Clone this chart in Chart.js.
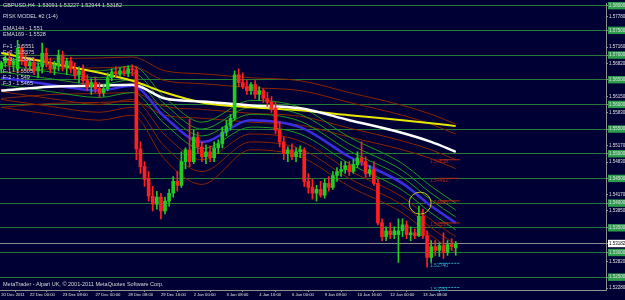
<!DOCTYPE html>
<html><head><meta charset="utf-8">
<script src="https://cdn.jsdelivr.net/npm/chart.js@4/dist/chart.umd.min.js"></script>
<style>html,body{margin:0;padding:0;background:#000035;}canvas{display:block}</style>
</head><body>
<canvas id="c" width="625" height="300"></canvas>
<script>
// ---- candle data (GBPUSD H4) ----
const opens=[1.5672,1.5684,1.5694,1.5680,1.5672,1.5714,1.5688,1.5678,1.5684,1.5668,1.5676,1.5704,1.5684,1.5672,1.5680,1.5700,1.5676,1.5688,1.5672,1.5660,1.5668,1.5648,1.5636,1.5644,1.5632,1.5624,1.5632,1.5654,1.5666,1.5662,1.5668,1.5664,1.5672,1.5670,1.5510,1.5474,1.5448,1.5414,1.5398,1.5412,1.5384,1.5404,1.5420,1.5444,1.5436,1.5484,1.5508,1.5484,1.5534,1.5514,1.5494,1.5504,1.5492,1.5512,1.5520,1.5544,1.5556,1.5572,1.5660,1.5644,1.5636,1.5628,1.5640,1.5620,1.5628,1.5612,1.5604,1.5592,1.5548,1.5524,1.5500,1.5508,1.5494,1.5504,1.5508,1.5444,1.5432,1.5420,1.5428,1.5416,1.5440,1.5432,1.5456,1.5464,1.5468,1.5476,1.5464,1.5478,1.5492,1.5484,1.5460,1.5468,1.5440,1.5360,1.5332,1.5344,1.5336,1.5336,1.5344,1.5356,1.5336,1.5340,1.5334,1.5374,1.5334,1.5290,1.5312,1.5304,1.5314,1.5300,1.5316,1.53091];
const highs=[1.5688,1.5700,1.5708,1.5694,1.5730,1.5720,1.5704,1.5688,1.5694,1.5684,1.5724,1.5714,1.5694,1.5688,1.5710,1.5708,1.5694,1.5696,1.5684,1.5676,1.5680,1.5660,1.5652,1.5656,1.5644,1.5640,1.5664,1.5672,1.5676,1.5674,1.5676,1.5678,1.5680,1.5676,1.5524,1.5484,1.5464,1.5434,1.5424,1.5420,1.5412,1.5428,1.5454,1.5464,1.5504,1.5512,1.5570,1.5548,1.5544,1.5524,1.5518,1.5516,1.5524,1.5528,1.5554,1.5568,1.5580,1.5668,1.5672,1.5664,1.5648,1.5644,1.5648,1.5636,1.5632,1.5624,1.5616,1.5604,1.5564,1.5534,1.5514,1.5520,1.5512,1.5516,1.5512,1.5460,1.5448,1.5436,1.5444,1.5448,1.5454,1.5464,1.5472,1.5484,1.5484,1.5484,1.5488,1.5504,1.5524,1.5494,1.5476,1.5484,1.5448,1.5368,1.5352,1.5360,1.5352,1.5368,1.5368,1.5364,1.5352,1.5348,1.5394,1.5388,1.5344,1.5324,1.5324,1.5320,1.5340,1.5324,1.5328,1.53227];
const lows=[1.5664,1.5676,1.5672,1.5668,1.5668,1.5680,1.5672,1.5672,1.5660,1.5654,1.5664,1.5676,1.5664,1.5660,1.5668,1.5668,1.5660,1.5664,1.5652,1.5644,1.5640,1.5628,1.5620,1.5624,1.5614,1.5616,1.5628,1.5648,1.5656,1.5656,1.5658,1.5656,1.5658,1.5488,1.5460,1.5434,1.5404,1.5384,1.5388,1.5368,1.5378,1.5394,1.5412,1.5424,1.5432,1.5470,1.5474,1.5480,1.5500,1.5484,1.5480,1.5484,1.5484,1.5500,1.5512,1.5536,1.5548,1.5568,1.5636,1.5632,1.5620,1.5620,1.5612,1.5608,1.5604,1.5596,1.5584,1.5540,1.5514,1.5488,1.5484,1.5488,1.5484,1.5492,1.5434,1.5420,1.5408,1.5404,1.5412,1.5410,1.5424,1.5428,1.5444,1.5454,1.5460,1.5456,1.5460,1.5472,1.5476,1.5452,1.5454,1.5436,1.5356,1.5324,1.5324,1.5328,1.5328,1.5280,1.5332,1.5328,1.5324,1.5328,1.5332,1.5328,1.5270,1.5280,1.5294,1.5292,1.5288,1.5294,1.5304,1.52944];
const closes=[1.5684,1.5694,1.5680,1.5688,1.5714,1.5688,1.5678,1.5684,1.5668,1.5676,1.5704,1.5684,1.5672,1.5680,1.5700,1.5676,1.5688,1.5672,1.5660,1.5668,1.5648,1.5636,1.5644,1.5632,1.5624,1.5632,1.5654,1.5666,1.5662,1.5668,1.5664,1.5672,1.5670,1.5510,1.5474,1.5448,1.5414,1.5398,1.5412,1.5384,1.5404,1.5420,1.5444,1.5436,1.5484,1.5508,1.5484,1.5534,1.5514,1.5494,1.5504,1.5492,1.5512,1.5520,1.5544,1.5556,1.5572,1.5660,1.5644,1.5636,1.5628,1.5640,1.5620,1.5628,1.5612,1.5604,1.5592,1.5548,1.5524,1.5500,1.5508,1.5494,1.5504,1.5508,1.5444,1.5432,1.5420,1.5428,1.5416,1.5440,1.5432,1.5456,1.5464,1.5468,1.5476,1.5464,1.5478,1.5492,1.5484,1.5460,1.5468,1.5440,1.5360,1.5332,1.5344,1.5336,1.5344,1.5344,1.5356,1.5336,1.5340,1.5334,1.5374,1.5334,1.5290,1.5312,1.5304,1.5314,1.5300,1.5316,1.5312,1.53182];

// ---- x axis ----
const dateTickIdx=[0,7,15,23,31,39,47,55,63,71,79,87,95,103];
const dateTickLabels=["20 Dec 2011","22 Dec 00:00","23 Dec 08:00","27 Dec 00:00","28 Dec 08:00","29 Dec 16:00","2 Jan 00:00","3 Jan 08:00","4 Jan 16:00","6 Jan 00:00","9 Jan 08:00","10 Jan 16:00","12 Jan 00:00","13 Jan 08:00"];

// ---- y axis ----
const priceTicks=[1.5778,1.5716,1.5682,1.5615,1.5583,1.5517,1.5483,1.5417,1.5385,1.5282,1.5228];
const levelLines=[1.5800,1.5750,1.5700,1.5650,1.5600,1.5550,1.5500,1.5450,1.5400,1.5350,1.5300,1.5250];
const lastPrice=1.53182;

// ---- indicator lines (sampled at bar index) ----
const bandIdx=[0,12,24,32,40,49,61,73,85,98,105,111];
const emaYellow=[1.5704,1.5684,1.5664,1.5648,1.5624,1.5604,1.5594,1.5588,1.5578,1.5568,1.5562,1.5556];
const emaWhite=[1.5628,1.5636,1.5638,1.5640,1.5612,1.5606,1.5598,1.5592,1.5568,1.5542,1.5524,1.5504];
const emaBlue=[1.5654,1.5640,1.5628,1.5638,1.5574,1.5524,1.5568,1.5554,1.5494,1.5440,1.5394,1.5360];
const green1=[1.5694,1.5680,1.5668,1.5678,1.5614,1.5564,1.5608,1.5594,1.5534,1.5480,1.5434,1.5400];
const green2=[1.5680,1.5666,1.5654,1.5664,1.5600,1.5550,1.5594,1.5580,1.5520,1.5466,1.5420,1.5386];
const green3=[1.5666,1.5652,1.5640,1.5650,1.5586,1.5536,1.5580,1.5566,1.5506,1.5452,1.5406,1.5372];
const green4=[1.5640,1.5626,1.5614,1.5624,1.5560,1.5510,1.5554,1.5540,1.5480,1.5426,1.5380,1.5346];
const redLow1=[1.5626,1.5612,1.5600,1.5610,1.5538,1.5488,1.5540,1.5526,1.5466,1.5412,1.5366,1.5332];
const redLow2=[1.5610,1.5596,1.5584,1.5594,1.5514,1.5464,1.5524,1.5510,1.5450,1.5396,1.5350,1.5316];
const redLow3=[1.5594,1.5580,1.5568,1.5578,1.5488,1.5438,1.5508,1.5494,1.5434,1.5380,1.5334,1.5300];
const redUp1=[1.5684,1.5692,1.5694,1.5696,1.5668,1.5662,1.5654,1.5648,1.5624,1.5598,1.5580,1.5560];
const redUp2=[1.5664,1.5672,1.5674,1.5676,1.5648,1.5642,1.5634,1.5628,1.5604,1.5578,1.5560,1.5540];
const redUp3=[1.5612,1.5620,1.5622,1.5624,1.5596,1.5590,1.5582,1.5576,1.5552,1.5526,1.5508,1.5488];
const redUp4=[1.5594,1.5602,1.5604,1.5606,1.5578,1.5572,1.5564,1.5558,1.5534,1.5508,1.5490,1.5470];

// ---- chart objects / texts ----
const objPrices=[1.54838,1.54462,1.54005,1.53558,1.52740,1.52251];
const objLabels=["1.54838","1.54462","1.54005","1.53558","1.52740","1.52251"];
const infoLines=["GBPUSD,H4  1.53091 1.53227 1.52944 1.53182","RISK MODEL #2 (1-4)","EMA144 - 1.551","EMA169 - 1.5528","F+1 - 1.5551","F+2 - 1.5575","F+3 - 1.5602","F-1 - 1.5505","F-2 - 1.549","F-3 - 1.5465"];
const footer="MetaTrader - Alpari UK, \u00a9 2001-2011 MetaQuotes Software Corp.";

const UP='#22cc22', DOWN='#ff2020';
const idx=opens.map((_,i)=>i);
const candleColor=idx.map(i=>closes[i]>=opens[i]?UP:DOWN);
const allYTicks=[...priceTicks,...levelLines,lastPrice];

function lineDs(arr,color,width,order){
  return {type:'line',data:bandIdx.map((x,k)=>({x,y:arr[k]})),borderColor:color,borderWidth:width,pointRadius:0,cubicInterpolationMode:'monotone',order};
}

const bgPlugin={id:'bg',beforeDraw(c){const x=c.ctx;x.save();x.fillStyle='#000035';x.fillRect(0,0,c.width,c.height);x.restore();}};
const txtPlugin={id:'txt',afterDraw(c){
  const x=c.ctx, xs=c.scales.x, ys=c.scales.y;
  x.save();
  x.font='5.5px "Liberation Sans"';x.fillStyle='#d8d8d8';x.textBaseline='middle';x.textAlign='left';
  const ypos=[5,16,28,34,46,52,59,71,77,83];
  infoLines.forEach((t,k)=>x.fillText(t,3,ypos[k]));
  x.fillText(footer,3,284);
  objPrices.forEach((p,k)=>{
    const py=ys.getPixelForValue(p);
    const col=k<4?'#b02a10':'#2aa8c0';
    x.fillStyle=col;x.font='5px "Liberation Sans"';
    x.fillText(objLabels[k],xs.getPixelForValue(104.7),py);
    x.strokeStyle=col;x.lineWidth=1;x.setLineDash(k<4?[]:[2,1]);
    x.beginPath();x.moveTo(xs.getPixelForValue(107),py-2);x.lineTo(xs.getPixelForValue(112),py-2);x.stroke();
  });
  x.setLineDash([]);
  x.strokeStyle='#c8c020';x.lineWidth=1;
  x.beginPath();x.arc(xs.getPixelForValue(102.3),ys.getPixelForValue(1.5400),11,0,Math.PI*2);x.stroke();
  x.restore();
}};

new Chart(document.getElementById('c'),{
  type:'bar',
  data:{datasets:[
    {data:idx.map(i=>({x:i,y:[lows[i],highs[i]]})),backgroundColor:candleColor,barThickness:1,grouped:false,order:0},
    {data:idx.map(i=>({x:i,y:[opens[i],closes[i]]})),backgroundColor:candleColor,barThickness:3,minBarLength:1,grouped:false,order:0},
    lineDs(redUp1,'#8b2400',1,5),lineDs(redUp2,'#8b2400',1,5),lineDs(redUp3,'#8b2400',1,5),lineDs(redUp4,'#8b2400',1,5),
    lineDs(redLow1,'#8b2400',1,5),lineDs(redLow2,'#8b2400',1,5),lineDs(redLow3,'#8b2400',1,5),
    lineDs(green1,'#1f9a1f',1,4),lineDs(green2,'#1f9a1f',1,4),lineDs(green3,'#1f9a1f',1,4),lineDs(green4,'#1f9a1f',1,4),
    lineDs(emaBlue,'#3a2ee0',2.5,3),lineDs(emaYellow,'#e8e800',2,2),lineDs(emaWhite,'#ffffff',2.5,1)
  ]},
  options:{
    responsive:false,animation:false,
    layout:{padding:0},
    plugins:{legend:{display:false},tooltip:{enabled:false}},
    scales:{
      x:{type:'linear',min:-0.3,max:147.7,offset:false,
        afterBuildTicks:s=>{s.ticks=dateTickIdx.map(v=>({value:v}));},
        afterFit:s=>{s.height=10;},
        grid:{drawOnChartArea:false,drawTicks:true,tickLength:2,color:'#909090'},
        border:{display:true,color:'#909090'},
        ticks:{autoSkip:false,maxRotation:0,align:'start',padding:0,color:'#e0e0e0',font:{size:4.2,family:'Liberation Sans'},
          callback:v=>{const k=dateTickIdx.indexOf(v);return k>=0?dateTickLabels[k]:'';}}
      },
      y:{position:'right',min:1.5224,max:1.5804,
        afterBuildTicks:s=>{s.ticks=allYTicks.map(v=>({value:v}));},
        afterFit:s=>{s.width=19;},
        grid:{drawTicks:true,tickLength:2,lineWidth:1,tickColor:'#909090',
          color:ctx=>levelLines.includes(ctx.tick.value)?'#267a34':(ctx.tick.value===lastPrice?'#8a8a8a':'rgba(0,0,0,0)')},
        border:{display:true,color:'#909090'},
        ticks:{autoSkip:false,padding:1,font:{size:4.5,family:'Liberation Sans'},
          color:ctx=>ctx.tick.value===lastPrice?'#000000':'#e0e0e0',
          showLabelBackdrop:ctx=>levelLines.includes(ctx.tick.value)||ctx.tick.value===lastPrice,
          backdropColor:ctx=>ctx.tick.value===lastPrice?'#ffffff':'#2e9e4e',
          backdropPadding:{top:1,bottom:1,left:1,right:4},
          callback:v=>v.toFixed(5)}
      }
    }
  },
  plugins:[bgPlugin,txtPlugin]
});
</script>
</body></html>
